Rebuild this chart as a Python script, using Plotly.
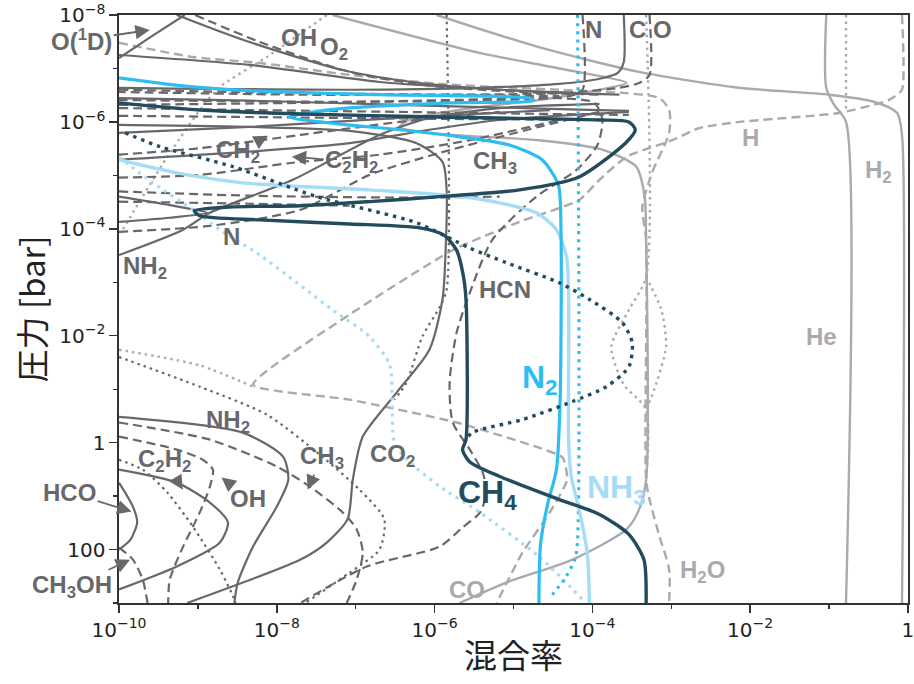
import plotly.graph_objects as go

DG = "#68686c"
LG = "#aaaaae"
TEAL = "#224c5d"
BLUE = "#2ebdf0"
LBLUE = "#a6dcf5"

# ---------------- data: mixing ratio (x) vs pressure in bar (p) ----------------
ch4_x = [1e-10, 1.06e-9, 2.0e-8, 1.16e-6, 1.23e-4, 2.9e-4, 3.5e-4, 2.7e-4, 6.8e-5, 1.19e-5, 1.16e-6, 1.5e-7,
         2.0e-8, 2.5e-9, 9e-10, 1.06e-9, 6.1e-9, 8.4e-8, 6.5e-7, 1.3e-6, 1.9e-6, 2.3e-6, 2.5e-6, 2.5e-6,
         2.26e-6, 2.8e-6, 6.7e-6, 3.8e-5, 1.23e-4, 2.9e-4, 4.5e-4, 4.8e-4]
ch4_p = [4.4e-7, 6.0e-7, 7.1e-7, 8.1e-7, 9.2e-7, 1.0e-6, 1.4e-6, 2.4e-6, 1.07e-5, 1.87e-5, 2.5e-5, 3.1e-5,
         3.7e-5, 3.9e-5, 4.6e-5, 5.7e-5, 6.8e-5, 8.1e-5, 9.6e-5, 1.3e-4, 2.5e-4, 7.2e-4, 2.1e-3, 0.88,
         1.35, 2.3, 4.3, 11.6, 22, 52, 154, 1000]

n2_x = [1e-10, 6e-10, 4.5e-9, 2.0e-7, 1.6e-5, 1.8e-5, 1.55e-6, 6e-8, 1.45e-8, 6e-8, 3.6e-7, 2.07e-6,
        8.9e-6, 2.3e-5, 3.7e-5, 4.0e-5, 3.9e-5, 3.5e-5, 2.7e-5, 2.2e-5, 2.1e-5]
n2_p = [1.5e-7, 2.1e-7, 2.6e-7, 3.1e-7, 3.6e-7, 4.0e-7, 4.4e-7, 5.7e-7, 8.1e-7, 1.09e-6, 1.4e-6, 1.9e-6,
        2.7e-6, 5.1e-6, 1.5e-5, 1.04e-4, 0.157, 3.2, 14.4, 81, 1000]

nh3_x = [1e-10, 5.4e-10, 3.7e-9, 1.5e-7, 2.8e-6, 1.95e-5, 3.5e-5, 4.7e-5, 5.0e-5, 5.0e-5, 5.4e-5, 6.8e-5, 8.6e-5, 9.2e-5]
nh3_p = [5.1e-6, 9.0e-6, 1.38e-5, 1.87e-5, 2.6e-5, 5.0e-5, 1.04e-4, 3.3e-4, 2.1e-3, 0.88, 4.3, 17.9, 114, 1000]

n_ldot_x = [1e-10, 2.7e-10, 8.6e-10, 1.9e-9, 6.1e-9, 5.1e-8, 1.5e-7, 2.7e-7, 2.9e-7, 3.1e-7, 4.8e-7, 1.16e-6, 3.7e-6, 2.1e-5, 7.5e-5]
n_ldot_p = [4.6e-6, 1.38e-5, 4.4e-5, 1.04e-4, 3.1e-4, 3.3e-3, 1.04e-2, 3.5e-2, 0.157, 1.0, 2.3, 6.6, 20, 135, 860]

n_bdot_x = [6.5e-5, 6.5e-5, 6.0e-5, 4.4e-5, 2.9e-5]
n_bdot_p = [1e-8, 65, 154, 364, 790]

teal_dot_x = [1.2e-10, 3.3e-10, 2.8e-9, 3.2e-8, 5.9e-7, 2.8e-6, 8.1e-6, 3.8e-5, 9.2e-5, 2.4e-4, 3.2e-4, 2.9e-4,
              1.5e-4, 5.6e-5, 1.3e-5, 3.0e-6, 2.4e-6]
teal_dot_p = [1.6e-6, 2.9e-6, 6.9e-6, 2.5e-5, 7.7e-5, 2.3e-4, 4.3e-4, 1.02e-3, 2.1e-3, 5.7e-3, 1.35e-2, 3.8e-2,
              9.0e-2, 0.17, 0.37, 0.65, 0.96]

# light grey species
h2_x = [1.06e-6, 2.1e-5, 3.9e-4, 7.3e-3, 0.1, 0.37, 0.73, 0.84, 0.84]
h2_p = [1e-8, 4.0e-8, 1.16e-7, 2.3e-7, 3.1e-7, 4.2e-7, 6.8e-7, 1.75e-6, 1000]

he_x = [9.2e-2, 9.2e-2, 0.116, 0.164, 0.164]
he_p = [1e-8, 2.3e-7, 4.8e-7, 1.0e-6, 1000]

he_dot_x = [0.164, 0.164]
he_dot_p = [1e-8, 6.5e-7]

h_x = [0.84, 0.84, 0.57, 0.134, 7.3e-3, 2.3e-3, 1.03e-3, 2.7e-4, 1.23e-4, 6.8e-5, 1.19e-5, 1.7e-6, 8.4e-8,
       5.0e-9, 8.4e-8, 1.9e-6, 2.1e-5, 4.2e-5, 4.8e-5, 2.9e-5, 1.3e-5, 6.1e-6]
h_p = [1e-8, 2.5e-7, 3.9e-7, 6.8e-7, 1.0e-6, 1.29e-6, 2.2e-6, 4.5e-6, 1.21e-5, 2.9e-5, 7.4e-5, 2.5e-4, 4.0e-3,
       8.2e-2, 0.157, 0.42, 1.24, 1.9, 4.9, 20, 114, 1000]

co_x = [5.1e-8, 3.7e-6, 3.8e-5, 2.7e-4, 1.23e-4, 2.1e-5, 3.0e-6, 5.0e-7, 3.6e-7, 1.16e-6, 2.1e-5, 1.34e-4,
        3.6e-4, 4.6e-4, 4.8e-4, 4.8e-4, 3.9e-4, 2.7e-4, 5.6e-5, 8.1e-6, 2.07e-6]
co_p = [1e-8, 5.1e-8, 1.0e-7, 1.87e-7, 2.5e-7, 3.9e-7, 5.5e-7, 8.8e-7, 1.24e-6, 1.68e-6, 2.2e-6, 3.3e-6,
        6.9e-6, 2.5e-5, 1.6e-4, 4.9, 17.9, 42, 154, 414, 1000]

h2o_x = [1e-10, 8.6e-10, 6.1e-9, 8.4e-8, 1.55e-6, 3.8e-5, 2.7e-4, 7.1e-4, 9.4e-4, 9.4e-4, 5.7e-4, 4.3e-4,
         4.8e-4, 4.8e-4, 5.3e-4, 7.1e-4, 9.4e-4, 9.4e-4]
h2o_p = [3.3e-8, 6.1e-8, 7.9e-8, 1.32e-7, 2.0e-7, 2.5e-7, 2.9e-7, 3.6e-7, 6.0e-7, 1.6e-6, 9.0e-6, 3.9e-5,
         1.6e-4, 4.9, 11.6, 57, 237, 1000]

lgdot_a_x = [4.8e-4, 4.8e-4, 2.9e-4, 1.74e-4, 2.5e-4, 4.8e-4, 4.8e-4]
lgdot_a_p = [1e-8, 7.9e-4, 3.3e-3, 1.6e-2, 8.2e-2, 0.24, 4.9]
lgdot_b_x = [4.8e-4, 7.5e-4, 8.6e-4, 6.1e-4, 4.8e-4]
lgdot_b_p = [7.9e-4, 3.3e-3, 1.6e-2, 0.1, 0.24]

lgdot_c_x = [4.3e-8, 7.5e-9, 1.74e-9, 4.1e-10, 1.5e-10, 1.05e-10]
lgdot_c_p = [1e-8, 6.1e-8, 2.5e-7, 4.5e-6, 5.0e-5, 1.2e-4]

lgdot_d_x = [1e-10, 1.06e-9, 5.0e-9]
lgdot_d_p = [1.83e-2, 3.6e-2, 9.0e-2]

# dark grey species (upper atmosphere)
o1d_x = [1e-10, 2.5e-10, 6.8e-10]
o1d_p = [6.4e-8, 2.6e-8, 1e-8]

oh_top_x = [5.4e-10, 3.7e-9, 6.8e-8, 6.5e-7, 6.7e-6, 5.1e-5, 2.2e-4]
oh_top_p = [1e-8, 2.9e-8, 1.07e-7, 1.87e-7, 2.5e-7, 2.9e-7, 3.1e-7]

o2_x = [9.2e-10, 6.1e-9, 8.4e-8, 8.6e-7, 1.19e-5, 1.23e-4]
o2_p = [1e-8, 3.2e-8, 1.16e-7, 2.1e-7, 2.75e-7, 3.1e-7]

t4_x = [1e-10, 4.5e-9, 2.0e-7, 6.7e-6, 6.8e-5]
t4_p = [5.6e-8, 8.6e-8, 1.79e-7, 2.5e-7, 2.9e-7]

c_x = [2.5e-4, 2.5e-4, 2.1e-4, 1.23e-4, 3.8e-5, 3.7e-6, 8.4e-8, 1e-10]
c_p = [1e-8, 7.6e-8, 1.21e-7, 1.56e-7, 1.95e-7, 2.3e-7, 2.5e-7, 2.3e-7]

o_x = [5.3e-4, 5.3e-4, 3.9e-4, 2.2e-4, 3.8e-5, 1.55e-6, 2.0e-8, 1e-10]
o_p = [1e-8, 1.32e-7, 1.87e-7, 2.3e-7, 2.9e-7, 3.1e-7, 3.1e-7, 2.75e-7]

n_x = [7.5e-5, 7.5e-5, 5.1e-5, 6.7e-6, 8.4e-8, 1e-10]
n_p = [1e-8, 2.5e-7, 3.3e-7, 3.9e-7, 4.2e-7, 3.9e-7]

b1_x = [1e-10, 2.0e-8, 1.55e-6, 3.8e-5]
b1_p = [2.5e-7, 2.9e-7, 3.1e-7, 3.3e-7]
cn_x = [1e-10, 4.5e-9, 3.6e-7, 2.9e-5, 2.9e-4]
cn_p = [3.6e-7, 4.0e-7, 4.8e-7, 5.7e-7, 6.2e-7]
b3_x = [1e-10, 4.5e-9, 3.6e-7, 2.9e-5, 2.9e-4]
b3_p = [5.5e-7, 6.0e-7, 6.5e-7, 7.1e-7, 7.4e-7]
b4_x = [1e-10, 4.5e-9, 1.55e-6, 1.23e-4]
b4_p = [7.7e-7, 8.1e-7, 8.8e-7, 9.2e-7]
ch_x = [1e-10, 4.5e-9, 3.6e-7, 2.9e-5]
ch_p = [1.6e-6, 1.24e-6, 8.4e-7, 6.0e-7]
ch2_x = [1e-10, 1.06e-9, 2.0e-8, 3.6e-7, 6.7e-6]
ch2_p = [4.1e-6, 3.1e-6, 1.75e-6, 1.0e-6, 6.5e-7]
b8_x = [1e-10, 4.5e-9, 8.4e-8, 8.6e-7, 6.7e-6, 2.9e-4]
b8_p = [5.1e-6, 3.6e-6, 2.5e-6, 1.4e-6, 9.2e-7, 6.5e-7]
c2h2_top_x = [1e-10, 1.06e-9, 1.6e-8, 2.0e-7, 2.8e-6, 3.8e-5]
c2h2_top_p = [1.1e-5, 9.8e-6, 5.8e-6, 4.1e-6, 2.2e-6, 9.2e-7]
ch3_top_x = [1e-10, 1.42e-9, 2.0e-8, 1.5e-7, 1.16e-6, 2.1e-5, 1.23e-4]
ch3_top_p = [1.14e-4, 8.8e-5, 4.4e-5, 9.8e-6, 3.8e-6, 1.24e-6, 6.5e-7]
mb1_x = [1e-10, 4.5e-9, 3.6e-7, 6.7e-6]
mb1_p = [2.0e-5, 2.4e-5, 2.6e-5, 2.5e-5]
mb2_x = [1e-10, 4.5e-9, 8.4e-8]
mb2_p = [3.1e-5, 3.4e-5, 3.7e-5]
mb3_x = [1e-10, 4.4e-10, 1.3e-9, 4.4e-10, 1e-10]
mb3_p = [2.5e-5, 3.6e-5, 5.0e-5, 6.2e-5, 7.4e-5]
nh2_top_x = [1e-10, 6.5e-10, 1.42e-9, 1.6e-8, 2.0e-7, 8.6e-7, 6.7e-6, 1.23e-4]
nh2_top_p = [3.1e-4, 1.04e-4, 5.0e-5, 1.21e-5, 1.75e-6, 8.4e-7, 5.5e-7, 4.6e-7]

co2_x = [1e-10, 4.5e-9, 8.4e-8, 5.9e-7, 1.26e-6, 1.42e-6, 1.38e-6, 1.26e-6, 8.6e-7, 3.3e-7, 1.23e-7,
         9.2e-8, 7.9e-8, 4.3e-8, 2.0e-8, 7.3e-10]
co2_p = [1.14e-6, 1.24e-6, 1.47e-6, 2.5e-6, 5.6e-6, 1.87e-5, 2.5e-4, 2.1e-3, 1.83e-2, 0.116, 0.77,
         4.9, 27, 74, 154, 1000]

dgdot_v_x = [1.42e-6, 1.42e-6, 1.16e-6, 7.0e-7, 4.4e-7, 3.1e-7]
dgdot_v_p = [1e-8, 1.38e-3, 2.9e-3, 1.04e-2, 7.6e-2, 0.157]

hcn_x = [1e-10, 2.0e-8, 1.55e-6, 3.8e-5, 1.06e-4, 1.34e-4, 1.16e-4, 6.3e-5, 1.95e-5, 5.4e-6, 2.8e-6,
         1.9e-6, 1.55e-6, 1.7e-6, 2.8e-6, 4.1e-6, 4.5e-6, 3.8e-6, 2.2e-6, 1.16e-6, 1.38e-7, 2.0e-8]
hcn_p = [4.8e-7, 4.4e-7, 3.9e-7, 3.6e-7, 4.4e-7, 9.2e-7, 2.7e-6, 7.9e-6, 2.5e-5, 1.6e-4, 1.57e-3,
         8.8e-3, 7.6e-2, 0.42, 1.35, 3.7, 8.6, 20, 40, 88, 208, 1000]

# dark grey species (deep atmosphere)
nh2_low_x = [1e-10, 3.7e-9, 1.2e-8, 1.4e-8, 1e-8, 5e-9, 3.2e-9, 2.9e-9]
nh2_low_p = [0.33, 0.65, 1.83, 4.9, 15.7, 88, 414, 1000]
c2h2_low_x = [1e-10, 5.4e-10, 1.42e-9, 2.4e-9, 1.9e-9, 5.4e-10, 1e-10]
c2h2_low_p = [3.2, 5.6, 13.2, 31, 74, 208, 560]
hco_x = [1e-10, 1.5e-10, 1.7e-10, 1.4e-10, 1e-10]
hco_p = [5.6, 15.7, 31, 65, 100]
oh_low_x = [1e-10, 5.4e-10, 1.16e-9, 1.55e-9, 1.42e-9, 1.06e-9, 6.5e-10, 4.4e-10, 4.2e-10]
oh_low_p = [0.77, 1.35, 2.1, 3.2, 6.6, 20, 88, 364, 1000]
ch3oh_x = [1e-10, 1.5e-10, 2.0e-10, 2.3e-10]
ch3oh_p = [92, 154, 364, 1000]
ch3_low_x = [1e-10, 1.42e-9, 1e-8, 2.6e-8, 6.8e-8, 1.03e-7, 1.23e-7, 1.03e-7, 7.7e-8]
ch3_low_p = [0.42, 0.88, 2.8, 6.6, 20, 42, 114, 364, 1000]
c2h2_dot_x = [1e-10, 2.0e-10, 4.1e-10, 8.6e-10, 1.9e-9, 2.8e-9, 3.0e-9]
c2h2_dot_p = [2.1, 3.2, 8.6, 37, 237, 757, 1000]
ch3_dot_x = [1e-10, 1.06e-9, 7.5e-9, 3.5e-8, 1.12e-7, 2.3e-7, 2.0e-7, 8.4e-8, 2.3e-8]
ch3_dot_p = [2.5e-2, 9.0e-2, 0.30, 1.68, 7.6, 27, 100, 269, 1000]

# ---------------- figure ----------------
fig = go.Figure()


def add(x, p, color, width, dash="solid", smoothing=0.7):
    fig.add_trace(go.Scatter(
        x=x, y=p, mode="lines",
        line=dict(color=color, width=width, dash=dash, shape="spline", smoothing=smoothing),
        hoverinfo="skip", showlegend=False))


DASH = "9px,5px"
DOT = "2.5px,4px"

# light grey
add(h2_x, h2_p, LG, 2.4)
add(he_x, he_p, LG, 2.4)
add(he_dot_x, he_dot_p, LG, 2.4, DOT)
add(h_x, h_p, LG, 2.4, DASH, 0.5)
add(co_x, co_p, LG, 2.4)
add(h2o_x, h2o_p, LG, 2.4, DASH)
add(lgdot_a_x, lgdot_a_p, LG, 2.4, DOT)
add(lgdot_b_x, lgdot_b_p, LG, 2.4, DOT)
add(lgdot_c_x, lgdot_c_p, LG, 2.4, DOT)
add(lgdot_d_x, lgdot_d_p, LG, 2.4, DOT)

# dark grey
for xs, ps, d in [
    (o1d_x, o1d_p, "solid"), (oh_top_x, oh_top_p, "solid"), (o2_x, o2_p, DASH), (t4_x, t4_p, "solid"),
    (c_x, c_p, "solid"), (o_x, o_p, DASH), (n_x, n_p, DASH), (b1_x, b1_p, DASH), (cn_x, cn_p, "solid"),
    (b3_x, b3_p, DASH), (b4_x, b4_p, DASH), (ch_x, ch_p, "solid"), (ch2_x, ch2_p, DASH), (b8_x, b8_p, "solid"),
    (c2h2_top_x, c2h2_top_p, DASH), (ch3_top_x, ch3_top_p, DASH), (mb1_x, mb1_p, DASH), (mb2_x, mb2_p, DASH),
    (mb3_x, mb3_p, "solid"), (nh2_top_x, nh2_top_p, "solid"), (co2_x, co2_p, "solid"),
    (dgdot_v_x, dgdot_v_p, DOT), (hcn_x, hcn_p, DASH), (nh2_low_x, nh2_low_p, "solid"),
    (c2h2_low_x, c2h2_low_p, "solid"), (hco_x, hco_p, "solid"), (oh_low_x, oh_low_p, DASH),
    (ch3oh_x, ch3oh_p, DASH), (ch3_low_x, ch3_low_p, DASH), (c2h2_dot_x, c2h2_dot_p, DOT),
    (ch3_dot_x, ch3_dot_p, DOT)]:
    add(xs, ps, DG, 2.2, d)

# coloured species
add(n_ldot_x, n_ldot_p, LBLUE, 3.2, "3px,5px")
add(n_bdot_x, n_bdot_p, BLUE, 3.2, "3px,5px")
add(nh3_x, nh3_p, LBLUE, 3.4)
add(n2_x, n2_p, BLUE, 3.2)
add(teal_dot_x, teal_dot_p, TEAL, 3.4, "3.5px,5px")
add(ch4_x, ch4_p, TEAL, 3.4)

# ---------------- labels ----------------
LF = "Liberation Sans"
GS = 24   # grey label size
BS = 32   # big label size
labels = [
    # x(log10), y(log10), text, color, size
    (-7.72, -7.57, "OH", DG, GS), (-7.27, -7.38, "O<sub>2</sub>", DG, GS),
    (-3.99, -7.72, "N", DG, GS), (-3.43, -7.72, "C", DG, GS), (-3.11, -7.72, "O", DG, GS),
    (-10.28, -6.41, "CN", DG, GS), (-10.28, -5.66, "CH", DG, GS),
    (-5.24, -5.25, "CH<sub>3</sub>", DG, GS), (-1.99, -5.70, "H", LG, GS), (-0.37, -5.07, "H<sub>2</sub>", LG, GS),
    (-8.57, -3.85, "N", DG, GS), (-9.67, -3.27, "NH<sub>2</sub>", DG, GS), (-5.11, -2.86, "HCN", DG, GS),
    (-1.09, -1.98, "He", LG, GS), (-4.67, -1.18, "N<sub>2</sub>", BLUE, BS),
    (-8.62, -0.39, "NH<sub>2</sub>", DG, GS), (-6.53, 0.24, "CO<sub>2</sub>", DG, GS),
    (-5.33, 0.97, "CH<sub>4</sub>", TEAL, BS), (-3.70, 0.88, "NH<sub>3</sub>", LBLUE, BS),
    (-5.59, 2.75, "CO", LG, GS), (-2.61, 2.41, "H<sub>2</sub>O", LG, GS),
]
arrows = [
    # tip x(log10), tip y(log10), text, text offset ax, ay (px)
    (-9.61, -7.72, "O(<sup>1</sup>D)", -68, 10),
    (-8.11, -5.74, "CH<sub>2</sub>", -30, 16),
    (-7.81, -5.35, "C<sub>2</sub>H<sub>2</sub>", 60, 5),
    (-7.61, 0.88, "CH<sub>3</sub>", 14, -32),
    (-9.19, 0.88, "C<sub>2</sub>H<sub>2</sub>", -18, -29),
    (-8.70, 0.65, "OH", 26, 21),
    (-9.84, 1.29, "HCO", -62, -19),
    (-9.86, 2.19, "CH<sub>3</sub>OH", -58, 27),
]
ann = []
for x, y, t, c, s in labels:
    ann.append(dict(x=x, y=y, xref="x", yref="y", text="<b>%s</b>" % t, showarrow=False,
                    font=dict(family=LF, size=s, color=c)))
for x, y, t, ax, ay in arrows:
    ann.append(dict(x=x, y=y, xref="x", yref="y", text="<b>%s</b>" % t, showarrow=True,
                    ax=ax, ay=ay, arrowhead=2, arrowsize=1.6, arrowwidth=1.8, arrowcolor=DG,
                    font=dict(family=LF, size=GS, color=DG)))

x_ticks = [1e-10, 1e-8, 1e-6, 1e-4, 1e-2, 1]
x_text = ["10<sup>−10</sup>", "10<sup>−8</sup>", "10<sup>−6</sup>", "10<sup>−4</sup>", "10<sup>−2</sup>", "1"]
x_minor = [1e-9, 1e-7, 1e-5, 1e-3, 1e-1]
y_ticks = [1e-8, 1e-6, 1e-4, 1e-2, 1, 100]
y_text = ["10<sup>−8</sup>", "10<sup>−6</sup>", "10<sup>−4</sup>", "10<sup>−2</sup>", "1", "100"]
y_minor = [1e-7, 1e-5, 1e-3, 1e-1, 10, 1000]

axis_common = dict(type="log", showgrid=False, zeroline=False, showline=True, linecolor="#333333",
                   linewidth=1.6, mirror=True, ticks="outside", ticklen=8, tickwidth=1.5,
                   tickcolor="#333333", automargin=False, ticklabeloverflow="allow",
                   tickfont=dict(family="DejaVu Sans", size=20, color="#222222"))

fig.update_layout(
    width=914, height=684, margin=dict(l=119, r=6, t=15, b=81),
    paper_bgcolor="white", plot_bgcolor="white",
    xaxis=dict(range=[-10, 0.0005], tickmode="array", tickvals=x_ticks, ticktext=x_text,
               minor=dict(tickvals=x_minor, ticks="outside", ticklen=4, tickwidth=1.3, tickcolor="#333333"),
               title=dict(text="混合率", font=dict(family="Noto Sans CJK JP", size=33, color="#222222"),
                          standoff=4),
               **axis_common),
    yaxis=dict(range=[3, -8], tickmode="array", tickvals=y_ticks, ticktext=y_text,
               minor=dict(tickvals=y_minor, ticks="outside", ticklen=4, tickwidth=1.3, tickcolor="#333333"),
               title=dict(text="圧力 [bar]", font=dict(family="Noto Sans CJK JP", size=33, color="#222222"),
                          standoff=4),
               **axis_common),
    annotations=ann,
)

fig.write_html("out.html", config={"displayModeBar": False, "staticPlot": True},
               post_script="document.body.style.margin='0';document.body.style.overflow='hidden';")
